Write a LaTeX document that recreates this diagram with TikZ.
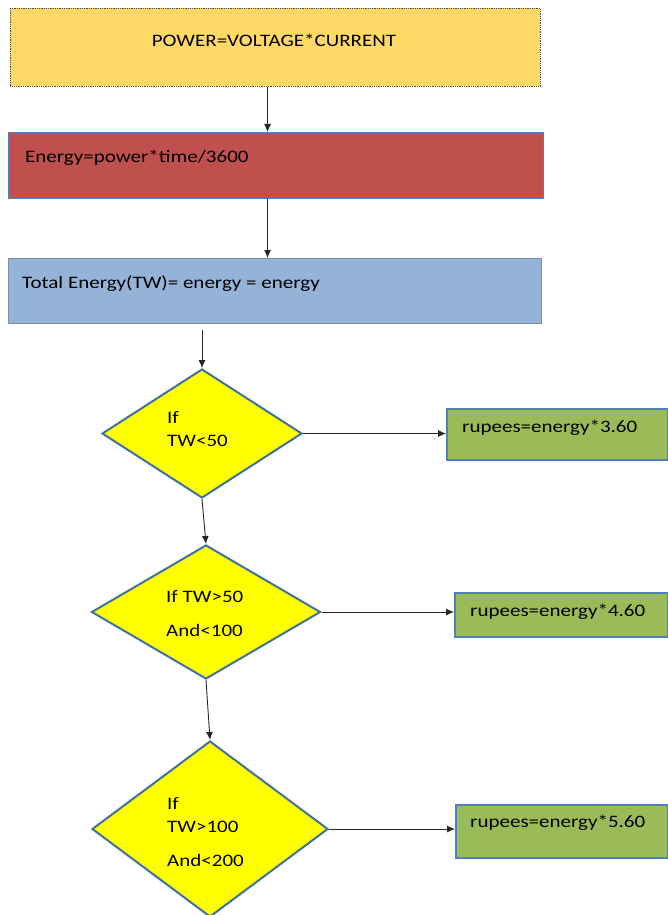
\documentclass[tikz,border=0pt]{standalone}
\usepackage{fontspec}
\setmainfont{Carlito}[FakeStretch=1.2]
\usetikzlibrary{shapes.geometric,arrows.meta}
\definecolor{boxyellow}{HTML}{FFD966}
\definecolor{boxred}{HTML}{C0504D}
\definecolor{boxblue}{HTML}{95B3D7}
\definecolor{dyellow}{HTML}{FFFF00}
\definecolor{dborder}{HTML}{41719C}
\definecolor{boxgreen}{HTML}{9BBB59}
\definecolor{gborder}{HTML}{4F81BD}
\definecolor{txt}{HTML}{000000}
\tikzset{
  box/.style={rectangle, inner sep=0pt, anchor=north west},
  dia/.style={diamond, inner sep=0pt, fill=dyellow, draw=dborder, line width=2pt},
  lbl/.style={inner sep=0pt, anchor=west, text=txt, font=\fontsize{17.5}{20}\selectfont},
  arr/.style={draw=black!85, line width=0.9pt, -{Latex[length=8pt,width=7pt]}}
}
\begin{document}
\begin{tikzpicture}[x=1pt,y=-1pt]
\useasboundingbox[fill=white] (0,0) rectangle (668,915);
% boxes
\node[box, fill=boxyellow, draw=black!70, densely dotted, line width=0.8pt, minimum width=530pt, minimum height=78pt] (b1) at (10,8) {};
\node[box, fill=boxred, draw=gborder, line width=1.2pt, minimum width=535pt, minimum height=66pt] (b2) at (8,132) {};
\node[box, fill=boxblue, draw=boxblue!80!black, line width=0.8pt, minimum width=533pt, minimum height=65pt] (b3) at (8,258) {};
% diamonds
\node[dia, minimum width=200pt, minimum height=129pt] (d1) at (202,433.5) {};
\node[dia, minimum width=229pt, minimum height=134pt] (d2) at (206,612) {};
\node[dia, minimum width=236pt, minimum height=176pt] (d3) at (210,829) {};
% result boxes
\node[box, fill=boxgreen, draw=gborder, line width=1.5pt, minimum width=221pt, minimum height=51pt] (g1) at (446,408) {};
\node[box, fill=boxgreen, draw=gborder, line width=1.5pt, minimum width=213pt, minimum height=44pt] (g2) at (454,592) {};
\node[box, fill=boxgreen, draw=gborder, line width=1.5pt, minimum width=212pt, minimum height=53pt] (g3) at (455,804) {};
% texts
\node[lbl, anchor=center] (t1) at (274,40) {POWER=VOLTAGE*CURRENT};
\node[lbl] (t2) at (25,158) {Energy=power*time/3600};
\node[lbl] (t3) at (22,284) {Total Energy(TW)= energy = energy};
\node[lbl] (t4a) at (167,417) {If};
\node[lbl] (t4b) at (167,441) {TW<50};
\node[lbl] (t5a) at (166,597) {If TW>50};
\node[lbl] (t5b) at (166,630) {And<100};
\node[lbl] (t6a) at (167,803) {If};
\node[lbl] (t6b) at (167,827) {TW>100};
\node[lbl] (t6c) at (167,860) {And<200};
\node[lbl] (t7) at (462,428) {rupees=energy*3.60};
\node[lbl] (t8) at (470,612) {rupees=energy*4.60};
\node[lbl] (t9) at (470,823) {rupees=energy*5.60};
% connectors
\coordinate (ax) at (267.5,0);
\coordinate (s3) at (202,330);
\draw[arr] (b1.south -| ax) -- (b2.north -| ax);
\draw[arr] (b2.south -| ax) -- (b3.north -| ax);
\draw[arr] (s3) -- (d1.north);
\draw[arr] (d1.south) -- (d2.north);
\draw[arr] (d2.south) -- (d3.north);
\draw[arr] (d1.east) -- (g1.west |- d1.east);
\draw[arr] (d2.east) -- (g2.west |- d2.east);
\draw[arr] (d3.east) -- (g3.west |- d3.east);
\end{tikzpicture}
\end{document}
